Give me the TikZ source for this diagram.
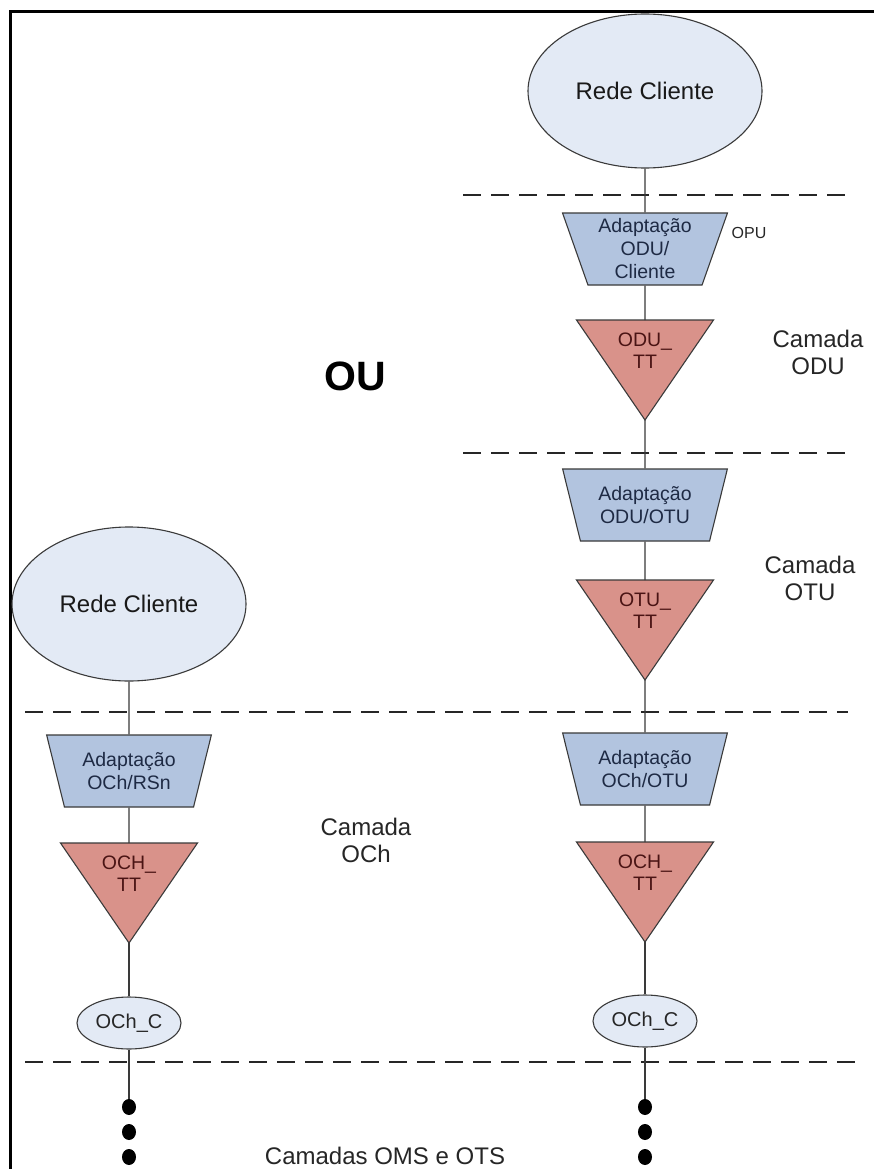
\documentclass[tikz,border=0pt]{standalone}
\usepackage{fontspec}
\setmainfont{Liberation Sans}
\usetikzlibrary{shapes.geometric}

\definecolor{cliFill}{HTML}{E3EAF5}
\definecolor{adaFill}{HTML}{B2C4DF}
\definecolor{ttFill}{HTML}{D9928A}
\definecolor{edge}{HTML}{3A3A3A}
\definecolor{adaText}{HTML}{1E2A44}
\definecolor{ttText}{HTML}{4A1414}

\tikzset{
  client/.style={ellipse, draw=edge, line width=1.1pt, fill=cliFill, inner sep=0pt,
    minimum width=234pt, minimum height=154pt, font=\fontsize{24}{28}\selectfont, text=black!90},
  adapt/.style={trapezium, trapezium stretches=true, shape border rotate=180,
    trapezium left angle=71, trapezium right angle=71, draw=edge, line width=1.1pt,
    fill=adaFill, minimum width=165pt, minimum height=72pt, inner sep=0pt,
    align=center, font=\fontsize{19.5}{23}\selectfont, text=adaText},
  ttshape/.style={draw=edge, line width=1.1pt, fill=ttFill, line join=miter},
  tttext/.style={align=center, font=\fontsize{19.5}{22}\selectfont, text=ttText, inner sep=0pt},
  conn/.style={draw=edge, line width=1.2pt},
  layer/.style={draw=black!85, line width=2.4pt, dash pattern=on 18pt off 10pt},
  occ/.style={ellipse, draw=edge, line width=1.1pt, fill=cliFill, inner sep=0pt,
    minimum width=104pt, minimum height=52pt, font=\fontsize{20}{24}\selectfont, text=black!85},
  dot/.style={ellipse, fill=black, inner sep=0pt, minimum width=14pt, minimum height=16pt},
  camada/.style={align=center, font=\fontsize{24}{27}\selectfont, text=black!85},
}

% downward triangle of a termination function: name, x, top y, label
\newcommand{\DownTri}[4]{%
  \draw[ttshape] ({#2-68.5},#3) -- ({#2+68.5},#3) -- (#2,{#3+100}) -- cycle;
  \coordinate (#1-top) at (#2,#3);
  \coordinate (#1-apex) at (#2,{#3+100});
  \node[tttext] (#1) at (#2,{#3+31}) {#4};
}

\begin{document}
\begin{tikzpicture}[x=1pt,y=-1pt]
\useasboundingbox (0,0) rectangle (874,1169);
\fill[white] (0,0) rectangle (874,1169);

% frame
\draw[line width=3pt, line join=miter] (10,1169) -- (10,12) -- (874,12);

% layer boundaries
\draw[layer] (463,195) -- (848,195);
\draw[layer] (463,453) -- (848,453);
\draw[layer] (25,712) -- (848,712);
\draw[layer] (25,1062) -- (855,1062);

% right column
\node[client] (e1) at (645,91) {Rede Cliente};
\node[adapt] (a1) at (645,249) {Adaptação\\ODU/\\Cliente};
\node[font=\fontsize{16}{18}\selectfont, text=black!85] (opu) at (749,233) {OPU};
\DownTri{t1}{645}{320}{ODU\_\\TT}
\node[adapt] (a2) at (645,505) {Adaptação\\ODU/OTU};
\DownTri{t2}{645}{580}{OTU\_\\TT}
\node[adapt] (a3) at (645,769) {Adaptação\\OCh/OTU};
\DownTri{t3}{645}{842}{OCH\_\\TT}
\node[occ] (c2) at (645,1021) {OCh\_C};
\node[dot] (d2a) at (645,1107) {};
\node[dot] (d2b) at (645,1132) {};
\node[dot] (d2c) at (645,1157) {};

% left column
\node[client] (e2) at (129,604) {Rede Cliente};
\node[adapt] (a4) at (129,771) {Adaptação\\OCh/RSn};
\DownTri{t4}{129}{843}{OCH\_\\TT}
\node[occ] (c1) at (129,1023) {OCh\_C};
\node[dot] (d1a) at (129,1107) {};
\node[dot] (d1b) at (129,1132) {};
\node[dot] (d1c) at (129,1157) {};

% connectors
\draw[conn] (e1.south) -- (a1.north);
\draw[conn] (a1.south) -- (t1-top);
\draw[conn] (t1-apex) -- (a2.north);
\draw[conn] (a2.south) -- (t2-top);
\draw[conn] (t2-apex) -- (a3.north);
\draw[conn] (a3.south) -- (t3-top);
\draw[conn] (t3-apex) -- (c2.north);
\draw[conn] (c2.south) -- (d2a.north);
\draw[conn] (e2.south) -- (a4.north);
\draw[conn] (a4.south) -- (t4-top);
\draw[conn] (t4-apex) -- (c1.north);
\draw[conn] (c1.south) -- (d1a.north);

% labels
\node[font=\bfseries\fontsize{41}{45}\selectfont] (ou) at (355,376) {OU};
\node[camada] (lodu) at (818,352) {Camada\\ODU};
\node[camada] (lotu) at (810,578) {Camada\\OTU};
\node[camada] (loch) at (366,840) {Camada\\OCh};
\node[camada] (loms) at (385,1156) {Camadas OMS e OTS};
\end{tikzpicture}
\end{document}
